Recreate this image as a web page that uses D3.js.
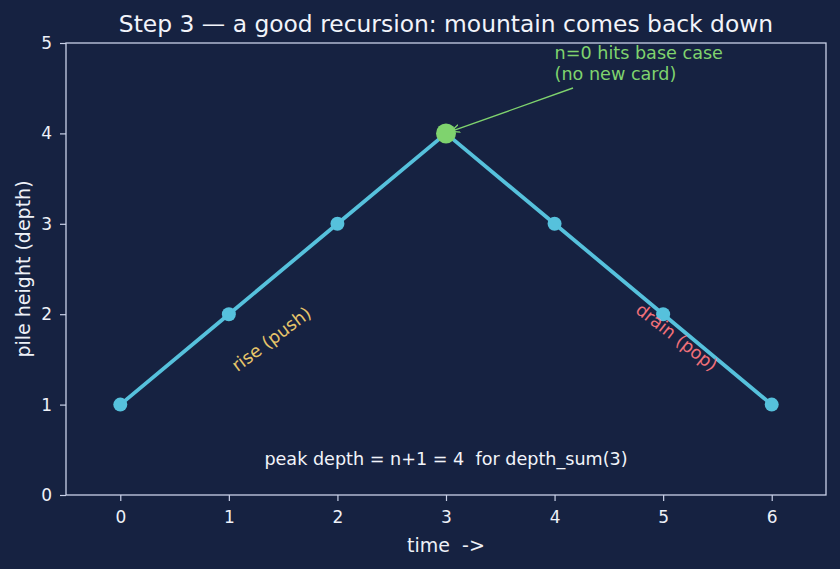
<!DOCTYPE html>
<html>
<head>
<meta charset="utf-8">
<script src="https://cdn.jsdelivr.net/npm/d3@7"></script>
<style>
  body { margin: 0; background: #162241; }
  svg { display: block; font-family: "DejaVu Sans", sans-serif; }
</style>
</head>
<body>
<svg id="chart" width="840" height="569"></svg>
<script>
// data
var times = [0, 1, 2, 3, 4, 5, 6];
var depth = [1, 2, 3, 4, 3, 2, 1];
var peakIndex = 3;
var xTicks = [0, 1, 2, 3, 4, 5, 6];
var yTicks = [0, 1, 2, 3, 4, 5];

var W = 840, H = 569;
var margin = {top: 43, right: 14, bottom: 74, left: 66};
var axisColor = "#c9d1e8";
var lineColor = "#56c1dc";

var svg = d3.select("#chart");
svg.append("rect").attr("width", W).attr("height", H).attr("fill", "#162241");

var x = d3.scaleLinear().domain([-0.5, 6.5]).range([margin.left, W - margin.right]);
var y = d3.scaleLinear().domain([0, 5]).range([H - margin.bottom, margin.top]);

// axes
var xAxis = svg.append("g")
    .attr("transform", "translate(0," + (H - margin.bottom) + ")")
    .call(d3.axisBottom(x).tickValues(xTicks).tickFormat(d3.format("d")).tickSize(6).tickPadding(10));
var yAxis = svg.append("g")
    .attr("transform", "translate(" + margin.left + ",0)")
    .call(d3.axisLeft(y).tickValues(yTicks).tickFormat(d3.format("d")).tickSize(6).tickPadding(8));

[xAxis, yAxis].forEach(function (a) {
    a.select(".domain").remove();
    a.selectAll("line").attr("stroke", axisColor).attr("stroke-width", 1.2);
    a.selectAll("text").attr("fill", "#eef1f8").style("font-size", "17px")
        .style("font-family", "DejaVu Sans, sans-serif");
});

// frame
svg.append("rect")
    .attr("x", x(-0.5)).attr("y", y(5))
    .attr("width", x(6.5) - x(-0.5)).attr("height", y(0) - y(5))
    .attr("fill", "none").attr("stroke", axisColor).attr("stroke-width", 1.3);

// line
var pts = times.map(function (t, i) { return [t, depth[i]]; });
svg.append("path")
    .datum(pts)
    .attr("d", d3.line().x(function (d) { return x(d[0]); }).y(function (d) { return y(d[1]); }))
    .attr("fill", "none").attr("stroke", lineColor).attr("stroke-width", 3.8)
    .attr("stroke-linejoin", "round");

svg.selectAll(".pt")
    .data(pts)
    .enter().append("circle")
    .attr("cx", function (d) { return x(d[0]); })
    .attr("cy", function (d) { return y(d[1]); })
    .attr("r", function (d, i) { return i === peakIndex ? 10 : 7; })
    .attr("fill", function (d, i) { return i === peakIndex ? "#7fd36e" : lineColor; });

// title
svg.append("text")
    .attr("x", (x(-0.5) + x(6.5)) / 2).attr("y", 32)
    .attr("text-anchor", "middle").attr("fill", "#f2f4fa")
    .style("font-size", "23.4px")
    .text("Step 3 \u2014 a good recursion: mountain comes back down");

// axis labels
svg.append("text")
    .attr("x", (x(-0.5) + x(6.5)) / 2).attr("y", 552)
    .attr("text-anchor", "middle").attr("fill", "#eef1f8")
    .style("font-size", "19px")
    .text("time\u00a0\u00a0->");
svg.append("text")
    .attr("transform", "translate(30," + ((y(0) + y(5)) / 2) + ") rotate(-90)")
    .attr("text-anchor", "middle").attr("fill", "#eef1f8")
    .style("font-size", "19px")
    .text("pile height (depth)");

// annotation with arrow
var green = "#7fd36e";
svg.append("defs").append("marker")
    .attr("id", "arr").attr("viewBox", "0 0 10 10")
    .attr("refX", 9).attr("refY", 5)
    .attr("markerWidth", 7).attr("markerHeight", 7)
    .attr("orient", "auto")
    .append("path").attr("d", "M0,1 L9,5 L0,9").attr("fill", "none")
    .attr("stroke", green).attr("stroke-width", 1.4);
svg.append("line")
    .attr("x1", 573).attr("y1", 88)
    .attr("x2", x(3) + 5).attr("y2", y(4) - 2)
    .attr("stroke", green).attr("stroke-width", 1.4)
    .attr("marker-end", "url(#arr)");
var ann = svg.append("text").attr("fill", green).style("font-size", "17.6px");
ann.append("tspan").attr("x", x(4)).attr("y", 59).text("n=0 hits base case");
ann.append("tspan").attr("x", x(4)).attr("y", 80).text("(no new card)");

// slope labels
svg.append("text")
    .attr("transform", "translate(272,340) rotate(-37)")
    .attr("text-anchor", "middle").attr("dominant-baseline", "middle")
    .attr("fill", "#e6c56a").style("font-size", "17.6px")
    .text("rise (push)");
svg.append("text")
    .attr("transform", "translate(676,338) rotate(38)")
    .attr("text-anchor", "middle").attr("dominant-baseline", "middle")
    .attr("fill", "#f07079").style("font-size", "17.6px")
    .text("drain (pop)");

// footnote
svg.append("text")
    .attr("x", (x(-0.5) + x(6.5)) / 2).attr("y", 465)
    .attr("text-anchor", "middle").attr("fill", "#f2f4fa")
    .style("font-size", "17.6px")
    .text("peak depth = n+1 = 4\u00a0\u00a0for depth_sum(3)");
</script>
</body>
</html>
